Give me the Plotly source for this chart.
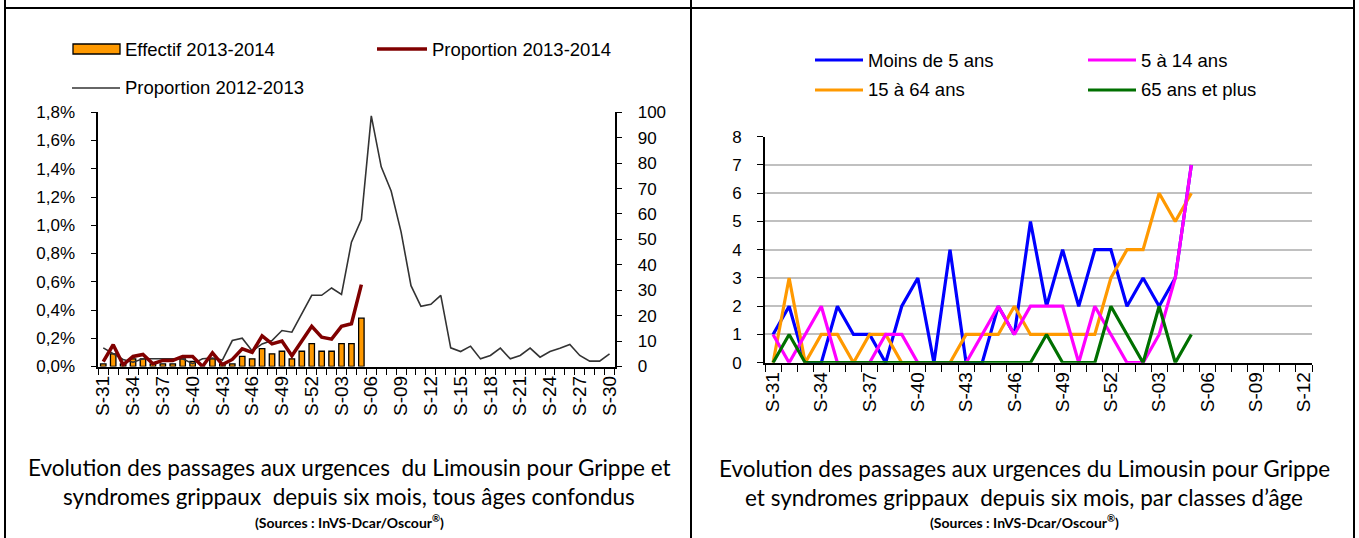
import plotly.graph_objects as go

W, H = 1359, 538

# ---------------- data: left chart ----------------
weeks_left = ["S-31", "S-32", "S-33", "S-34", "S-35", "S-36", "S-37", "S-38", "S-39", "S-40",
              "S-41", "S-42", "S-43", "S-44", "S-45", "S-46", "S-47", "S-48", "S-49", "S-50",
              "S-51", "S-52", "S-01", "S-02", "S-03", "S-04", "S-05", "S-06", "S-07", "S-08",
              "S-09", "S-10", "S-11", "S-12", "S-13", "S-14", "S-15", "S-16", "S-17", "S-18",
              "S-19", "S-20", "S-21", "S-22", "S-23", "S-24", "S-25", "S-26", "S-27", "S-28",
              "S-29", "S-30"]
tick_labels_left = weeks_left[::3]

effectif_2013_2014 = [1, 5, 1, 3, 3, 1, 1, 1, 3, 2, 0, 3, 1, 1, 4, 3, 7, 5, 6, 3,
                      6, 9, 6, 6, 9, 9, 19]
proportion_2013_2014 = [0.035, 0.154, 0.012, 0.071, 0.085, 0.020, 0.043, 0.043, 0.071, 0.071,
                        0.000, 0.097, 0.014, 0.050, 0.125, 0.100, 0.217, 0.160, 0.180, 0.076,
                        0.180, 0.284, 0.208, 0.194, 0.284, 0.303, 0.580]
proportion_2012_2013 = [0.132, 0.090, 0.050, 0.030, 0.055, 0.055, 0.055, 0.055, 0.055, 0.020,
                        0.055, 0.060, 0.045, 0.184, 0.200, 0.110, 0.160, 0.184, 0.255, 0.243,
                        0.373, 0.504, 0.504, 0.556, 0.510, 0.880, 1.040, 1.775, 1.414, 1.243,
                        0.953, 0.572, 0.426, 0.440, 0.504, 0.132, 0.106, 0.144, 0.054, 0.078,
                        0.130, 0.054, 0.078, 0.130, 0.066, 0.106, 0.130, 0.156, 0.078, 0.038,
                        0.038, 0.090]

# ---------------- data: right chart ----------------
weeks_right = ["S-31", "S-32", "S-33", "S-34", "S-35", "S-36", "S-37", "S-38", "S-39", "S-40",
               "S-41", "S-42", "S-43", "S-44", "S-45", "S-46", "S-47", "S-48", "S-49", "S-50",
               "S-51", "S-52", "S-01", "S-02", "S-03", "S-04", "S-05", "S-06", "S-07", "S-08",
               "S-09", "S-10", "S-11", "S-12"]
tick_labels_right = weeks_right[::3]

moins_5 = [1, 2, 0, 0, 2, 1, 1, 0, 2, 3, 0, 4, 0, 0, 2, 1, 5, 2, 4, 2, 4, 4, 2, 3, 2, 3, 7]
de_5_14 = [1, 0, 1, 2, 0, 0, 0, 1, 1, 0, 0, 0, 0, 1, 2, 1, 2, 2, 2, 0, 2, 1, 0, 0, 1, 3, 7]
de_15_64 = [0, 3, 0, 1, 1, 0, 1, 1, 0, 0, 0, 0, 1, 1, 1, 2, 1, 1, 1, 1, 1, 3, 4, 4, 6, 5, 6]
plus_65 = [0, 1, 0, 0, 0, 0, 0, 0, 0, 0, 0, 0, 0, 0, 0, 0, 0, 1, 0, 0, 0, 2, 1, 0, 2, 0, 1]

# ---------------- styles ----------------
AX_FONT = "Liberation Sans, Arial, sans-serif"
TITLE_FONT = "Lato, Roboto, sans-serif"
ORANGE = "#FF9900"
DARKRED = "#800000"
GRAY = "#333333"


def px_x(p):
    return p / W


def px_y(p):
    return 1 - p / H


fig = go.Figure()

# left chart: bars on count axis (y), lines on percent axis (y2)
fig.add_trace(go.Bar(x=weeks_left[:len(effectif_2013_2014)], y=effectif_2013_2014,
                     marker=dict(color=ORANGE, line=dict(color="black", width=1.3)),
                     width=0.55, xaxis="x", yaxis="y", name="Effectif 2013-2014"))
fig.add_trace(go.Scatter(x=weeks_left, y=proportion_2012_2013, mode="lines",
                         line=dict(color=GRAY, width=1.6), xaxis="x", yaxis="y2",
                         name="Proportion 2012-2013"))
fig.add_trace(go.Scatter(x=weeks_left[:len(proportion_2013_2014)], y=proportion_2013_2014,
                         mode="lines", line=dict(color=DARKRED, width=3.5), xaxis="x", yaxis="y2",
                         name="Proportion 2013-2014"))

# right chart
right_series = [
    ("Moins de 5 ans", moins_5, "#0000FF"),
    ("5 à 14 ans", de_5_14, "#FF00FF"),
    ("15 à 64 ans", de_15_64, "#FF9900"),
    ("65 ans et plus", plus_65, "#007000"),
]
for k in [0, 2, 1, 3]:
    name, vals, col = right_series[k]
    fig.add_trace(go.Scatter(x=weeks_right[:len(vals)], y=vals, mode="lines",
                             line=dict(color=col, width=3.2), xaxis="x2", yaxis="y3",
                             name=name))

axis_common = dict(showline=True, linecolor="black", linewidth=1.6, showgrid=False,
                   zeroline=False, ticks="outside", tickcolor="black", tickwidth=1.4,
                   automargin=False,
                   tickfont=dict(family=AX_FONT, size=17, color="black"))
xfont = dict(family=AX_FONT, size=19, color="black")

fig.update_layout(
    template="none",
    width=W, height=H, margin=dict(l=0, r=0, t=0, b=0, pad=0, autoexpand=False),
    paper_bgcolor="white", plot_bgcolor="white", showlegend=False,
    separators=", ", bargap=0.45,
    xaxis=dict(domain=[px_x(98.3), px_x(614.5)], type="category",
               categoryorder="array", categoryarray=weeks_left,
               range=[-0.5, len(weeks_left) - 0.5],
               tickmode="array", tickvals=weeks_left,
               ticktext=[w if w in tick_labels_left else "" for w in weeks_left],
               tickson="boundaries", ticklen=7, tickangle=-90, anchor="y",
               **{**axis_common, "tickfont": xfont}),
    yaxis=dict(domain=[px_y(366.5), px_y(112.3)], range=[0, 100], dtick=10, side="right",
               anchor="x", ticklen=6, ticklabelstandoff=12, **axis_common),
    yaxis2=dict(overlaying="y", range=[0, 1.8], dtick=0.2, tickformat=".1f", ticksuffix="%",
                side="left", anchor="x", ticklen=6, ticklabelstandoff=12, **axis_common),
    # inner half of the crossing ticks on the right-hand count axis
    yaxis4=dict(overlaying="y", range=[0, 100], dtick=10, side="right", anchor="x",
                ticks="inside", ticklen=6, tickwidth=1.4, tickcolor="black",
                showticklabels=False, showline=False, showgrid=False, zeroline=False,
                automargin=False),
    xaxis2=dict(domain=[px_x(765), px_x(1312)], type="category",
                categoryorder="array", categoryarray=weeks_right,
                range=[-0.5, len(weeks_right) - 0.5],
                tickmode="array", tickvals=weeks_right,
                ticktext=[w if w in tick_labels_right else "" for w in weeks_right],
                tickson="boundaries", ticklen=7, tickangle=-90, anchor="y3",
                **{**axis_common, "tickfont": xfont}),
    yaxis3=dict(domain=[px_y(362.7), px_y(136.7)], range=[0, 8], dtick=1, anchor="x2",
                ticklen=6, ticklabelstandoff=12,
                **{**axis_common, "showgrid": True, "gridcolor": "#C0C0C0", "gridwidth": 1.6}),
)

shapes = []
# frame lines
for xx in [5, 691, 1354]:
    shapes.append(dict(type="line", xref="paper", yref="paper", x0=px_x(xx), x1=px_x(xx),
                       y0=0, y1=1, line=dict(color="black", width=2)))
shapes.append(dict(type="line", xref="paper", yref="paper", x0=px_x(5), x1=px_x(1354),
                   y0=px_y(8), y1=px_y(8), line=dict(color="black", width=2)))

annotations = []


def legend_text(x, y, text):
    annotations.append(dict(xref="paper", yref="paper", x=px_x(x), y=px_y(y), text=text,
                            showarrow=False, xanchor="left", yanchor="middle",
                            font=dict(family=AX_FONT, size=18.5, color="black")))


# left legend
shapes.append(dict(type="rect", xref="paper", yref="paper", x0=px_x(73), x1=px_x(120),
                   y0=px_y(54), y1=px_y(44), fillcolor=ORANGE,
                   line=dict(color="black", width=1.3)))
legend_text(123, 49, "Effectif 2013-2014")
shapes.append(dict(type="line", xref="paper", yref="paper", x0=px_x(377), x1=px_x(427),
                   y0=px_y(49), y1=px_y(49), line=dict(color=DARKRED, width=3.5)))
legend_text(430, 49, "Proportion 2013-2014")
shapes.append(dict(type="line", xref="paper", yref="paper", x0=px_x(72), x1=px_x(120),
                   y0=px_y(88), y1=px_y(88), line=dict(color=GRAY, width=1.6)))
legend_text(123, 88, "Proportion 2012-2013")

# right legend
leg_pos = [(815, 60), (1088, 60), (815, 90), (1088, 90)]
for (name, vals, col), (lx, ly) in zip(right_series, leg_pos):
    shapes.append(dict(type="line", xref="paper", yref="paper", x0=px_x(lx), x1=px_x(lx + 48),
                       y0=px_y(ly), y1=px_y(ly), line=dict(color=col, width=3.2)))
    legend_text(lx + 51, ly, name)


def title_line(x, y, text, size=22.5):
    annotations.append(dict(xref="paper", yref="paper", x=px_x(x), y=px_y(y), text=text,
                            showarrow=False, xanchor="center", yanchor="middle",
                            font=dict(family=TITLE_FONT, size=size, color="black")))


SRC = "<b>(Sources : InVS-Dcar/Oscour<sup>®</sup>)</b>"
title_line(349, 467, "Evolution des passages aux urgences \u00a0du Limousin pour Grippe et")
title_line(349, 496, "syndromes grippaux \u00a0depuis six mois, tous âges confondus")
title_line(349, 521, SRC, size=14)
title_line(1024, 468, "Evolution des passages aux urgences du Limousin pour Grippe")
title_line(1024, 497, "et syndromes grippaux \u00a0depuis six mois, par classes d’âge")
title_line(1024, 521, SRC, size=14)

fig.update_layout(shapes=shapes, annotations=annotations)
fig.write_html("out.html", config={"displayModeBar": False},
               post_script="document.body.style.margin='0';document.body.style.padding='0';")
